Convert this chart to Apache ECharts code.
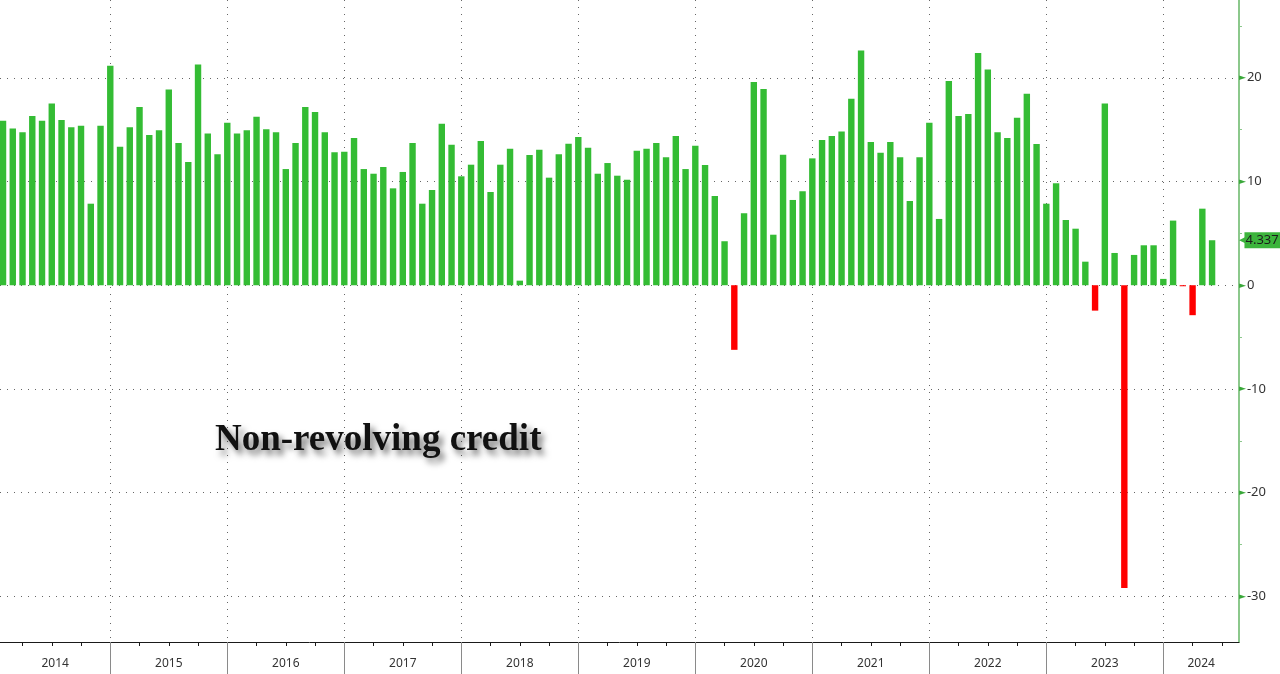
<!DOCTYPE html>
<html>
<head>
<meta charset="utf-8">
<script src="https://cdn.jsdelivr.net/npm/echarts@6/dist/echarts.min.js"></script>
<style>
html,body{margin:0;padding:0;background:#ffffff;}
#chart{width:1280px;height:674px;}
</style>
</head>
<body>
<div id="chart"></div>
<script>
// ---- data (monthly change, $bn), Jan 2014 .. May 2024 ----
const years = [2014, 2015, 2016, 2017, 2018, 2019, 2020, 2021, 2022, 2023, 2024];
const v2014 = [15.86, 15.12, 14.74, 16.31, 15.86, 17.53, 15.92, 15.22, 15.38, 7.86, 15.38, 21.16];
const v2015 = [13.35, 15.22, 17.18, 14.48, 14.93, 18.88, 13.71, 11.88, 21.29, 14.64, 12.62, 15.67];
const v2016 = [14.64, 14.93, 16.25, 15.03, 14.74, 11.20, 13.71, 17.18, 16.70, 14.74, 12.81, 12.87];
const v2017 = [14.19, 11.20, 10.75, 11.40, 9.34, 10.92, 13.71, 7.86, 9.18, 15.57, 13.55, 10.50];
const v2018 = [11.62, 13.90, 8.99, 11.62, 13.16, 0.44, 12.55, 13.06, 10.37, 12.62, 13.64, 14.29];
const v2019 = [13.26, 10.75, 11.78, 10.56, 10.17, 12.97, 13.16, 13.71, 12.33, 14.38, 11.20, 13.45];
const v2020 = [11.59, 8.60, 4.24, -6.23, 6.94, 19.59, 18.91, 4.87, 12.58, 8.22, 9.06, 12.23];
const v2021 = [14.00, 14.38, 14.83, 17.98, 22.64, 13.81, 12.78, 13.81, 12.33, 8.12, 12.33, 15.67];
const v2022 = [6.39, 19.68, 16.31, 16.50, 22.38, 20.81, 14.74, 14.19, 16.15, 18.46, 13.61, 7.86];
const v2023 = [9.83, 6.29, 5.45, 2.27, -2.45, 17.53, 3.11, -29.19, 2.92, 3.85, 3.85, 0.61];
const v2024 = [6.23, -0.10, -2.89, 7.38, 4.337];
const yTicks = [-30, -20, -10, 0, 10, 20];
const yMinorTicks = [-25, -15, -5, 5, 15, 25];
const chartTitle = 'Non-revolving credit';

const values = [].concat(v2014, v2015, v2016, v2017, v2018, v2019, v2020, v2021, v2022, v2023, v2024);
const lastValue = values[values.length - 1];

// axis extents (month index 0 = Jan 2014, bars sit at month end)
const X_MIN = -0.31, X_MAX = 126.76, Y_MIN = -34.4, Y_MAX = 27.5;

const barData = values.map((v, i) => [i, v]);

const yearEnds = [];
const quarterTicks = [];
for (let i = 0; i <= X_MAX; i++) {
  if (i % 12 === 11) yearEnds.push(i);
  else if (i % 3 === 2) quarterTicks.push(i);
}
const yearCenters = [];
const centerToYear = {};
years.forEach((y, k) => {
  const s = Math.max(12 * k - 1, X_MIN);
  const e = Math.min(12 * k + 11, X_MAX);
  const c = +((s + e) / 2).toFixed(3);
  yearCenters.push(c);
  centerToYear[c] = String(y);
});

const GREEN = '#34bc34';
const RED = '#ff0000';
const GRID_COLOR = '#666666';

const chart = echarts.init(document.getElementById('chart'), null, {renderer: 'canvas'});
chart.setOption({
  animation: false,
  backgroundColor: '#ffffff',
  title: {
    text: chartTitle,
    left: 210,
    top: 417,
    textStyle: {
      fontFamily: 'Liberation Serif',
      fontWeight: 'bold',
      fontSize: 37,
      color: '#111111',
      textShadowColor: 'rgba(0,0,0,0.55)',
      textShadowBlur: 6,
      textShadowOffsetX: 4,
      textShadowOffsetY: 5
    }
  },
  grid: {left: 0, right: 41, top: 0, bottom: 32, containLabel: false, outerBoundsMode: 'none'},
  xAxis: [
    {
      type: 'value', min: X_MIN, max: X_MAX, position: 'bottom',
      axisLine: {show: true, onZero: false, lineStyle: {color: '#1a1a1a', width: 1}},
      axisTick: {show: true, customValues: quarterTicks, length: 4, lineStyle: {color: '#1a1a1a', width: 1}},
      axisLabel: {show: false},
      splitLine: {show: false}
    },
    {
      type: 'value', min: X_MIN, max: X_MAX, position: 'bottom',
      axisLine: {show: false, onZero: false},
      axisTick: {show: true, customValues: yearEnds, length: 34, lineStyle: {color: '#8a8a8a', width: 1}},
      axisLabel: {
        show: true, customValues: yearCenters, margin: 16,
        fontFamily: 'Noto Sans', fontSize: 12, color: '#333333',
        formatter: v => centerToYear[+(+v).toFixed(3)] || ''
      },
      splitLine: {show: true, lineStyle: {color: GRID_COLOR, width: 1, type: [1, 6]}}
    }
  ],
  yAxis: [
    {
      type: 'value', min: Y_MIN, max: Y_MAX, position: 'right',
      axisLine: {show: true, onZero: false, lineStyle: {color: '#8cc88c', width: 2}},
      axisTick: {show: false, customValues: yTicks},
      axisLabel: {
        customValues: yTicks, margin: 0,
        formatter: v => '{a|►}{t|' + v + '}',
        rich: {
          a: {color: '#3aa83a', fontSize: 9, fontFamily: 'DejaVu Sans', padding: [0, 1, 0, 0]},
          t: {color: '#333333', fontSize: 13, fontFamily: 'Noto Sans'}
        }
      },
      splitLine: {show: true, lineStyle: {color: GRID_COLOR, width: 1, type: [1, 6]}}
    },
    {
      type: 'value', min: Y_MIN, max: Y_MAX, position: 'right',
      axisLine: {show: false, onZero: false},
      axisTick: {show: true, customValues: yMinorTicks, length: 3, lineStyle: {color: '#8cc88c', width: 1}},
      axisLabel: {
        customValues: [lastValue], margin: 0,
        formatter: v => '{arr|◀}{box|' + (+v).toFixed(3) + '}',
        rich: {
          arr: {color: '#3cb43c', fontSize: 11, fontFamily: 'DejaVu Sans', padding: [0, -3, 0, 0]},
          box: {backgroundColor: '#3cb43c', color: '#1c1c1c', fontSize: 13, fontFamily: 'Noto Sans', padding: [2, 4, 1, 1]}
        }
      },
      splitLine: {show: false}
    }
  ],
  series: [
    {
      type: 'bar',
      xAxisIndex: 0,
      yAxisIndex: 0,
      data: barData,
      barWidth: 6.4,
      itemStyle: {color: p => (p.value[1] < 0 ? RED : GREEN)}
    }
  ]
});
</script>
</body>
</html>
